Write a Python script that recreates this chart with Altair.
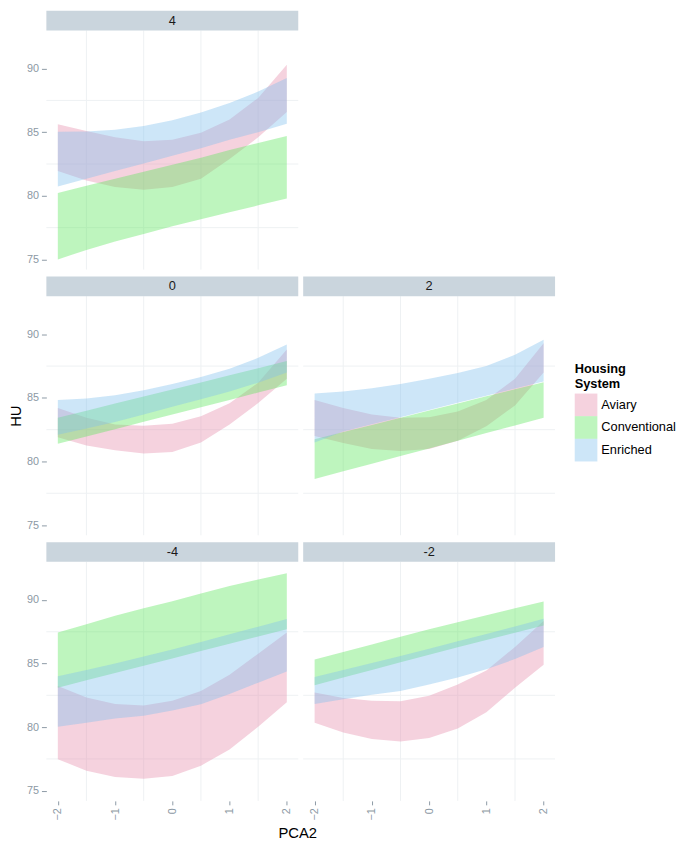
import altair as alt
import pandas as pd

# ---------------- data ----------------
PCA2 = [-2, -1.5, -1, -0.5, 0, 0.5, 1, 1.5, 2]
SYSTEMS = ["Aviary", "Conventional", "Enriched"]
PANEL_LABELS = ["4", "0", "2", "-4", "-2"]
X_TICKS = [-2, -1, 0, 1, 2]
Y_TICKS = [75, 80, 85, 90]
GRID_X = [-1.5, -0.5, 0.5, 1.5]
GRID_Y = [77.5, 82.5, 87.5]

# panel "4"
P4_AVIARY_LO = [81.96, 81.2, 80.7, 80.48, 80.7, 81.35, 82.9, 84.6, 86.6]
P4_AVIARY_HI = [85.62, 85.1, 84.6, 84.3, 84.4, 84.95, 86.0, 87.7, 90.3]
P4_CONV_LO = [75.0, 75.75, 76.4, 77.0, 77.6, 78.15, 78.7, 79.25, 79.79]
P4_CONV_HI = [80.22, 80.8, 81.35, 81.9, 82.45, 83.0, 83.6, 84.15, 84.7]
P4_ENR_LO = [80.74, 81.35, 81.95, 82.55, 83.15, 83.75, 84.4, 85.0, 85.67]
P4_ENR_HI = [85.03, 85.05, 85.2, 85.5, 85.95, 86.55, 87.3, 88.2, 89.26]

# panel "0"
P0_AVIARY_LO = [81.9, 81.26, 80.88, 80.62, 80.75, 81.5, 82.9, 84.6, 86.5]
P0_AVIARY_HI = [84.2, 83.43, 82.9, 82.8, 82.97, 83.56, 84.58, 86.2, 88.8]
P0_CONV_LO = [81.39, 81.97, 82.54, 83.12, 83.69, 84.27, 84.84, 85.42, 85.99]
P0_CONV_HI = [83.43, 83.99, 84.55, 85.1, 85.66, 86.22, 86.78, 87.34, 87.9]
P0_ENR_LO = [82.1, 82.6, 83.1, 83.7, 84.3, 84.9, 85.5, 86.2, 87.0]
P0_ENR_HI = [84.84, 84.95, 85.2, 85.6, 86.1, 86.65, 87.3, 88.15, 89.2]

# panel "2"
P2_AVIARY_LO = [82.0, 81.45, 80.99, 80.82, 80.99, 81.63, 82.78, 84.4, 87.0]
P2_AVIARY_HI = [84.84, 84.2, 83.7, 83.43, 83.48, 83.94, 84.84, 86.5, 89.3]
P2_CONV_LO = [78.63, 79.23, 79.83, 80.43, 81.03, 81.63, 82.23, 82.83, 83.43]
P2_CONV_HI = [81.75, 82.31, 82.87, 83.43, 84.0, 84.56, 85.12, 85.68, 86.24]
P2_ENR_LO = [81.5, 82.35, 82.92, 83.48, 84.05, 84.61, 85.17, 85.73, 86.28]
P2_ENR_HI = [85.35, 85.5, 85.75, 86.1, 86.5, 86.95, 87.5, 88.4, 89.57]

# panel "-4"
PM4_AVIARY_LO = [77.48, 76.58, 76.07, 75.94, 76.15, 76.97, 78.25, 80.03, 81.95]
PM4_AVIARY_HI = [83.23, 82.33, 81.82, 81.7, 82.08, 82.85, 84.12, 85.78, 87.44]
PM4_CONV_LO = [83.1, 83.68, 84.25, 84.83, 85.4, 85.98, 86.55, 87.13, 87.7]
PM4_CONV_HI = [87.44, 88.1, 88.75, 89.35, 89.9, 90.5, 91.1, 91.6, 92.1]
PM4_ENR_LO = [80.03, 80.35, 80.67, 80.9, 81.3, 81.8, 82.6, 83.5, 84.38]
PM4_ENR_HI = [84.0, 84.5, 85.0, 85.55, 86.1, 86.7, 87.3, 87.9, 88.5]

# panel "-2"
PM2_AVIARY_LO = [80.34, 79.57, 79.06, 78.88, 79.14, 79.9, 81.18, 83.1, 84.9]
PM2_AVIARY_HI = [82.72, 82.3, 82.08, 82.03, 82.46, 83.35, 84.45, 86.3, 88.34]
PM2_CONV_LO = [83.3, 83.9, 84.5, 85.1, 85.7, 86.28, 86.85, 87.43, 88.0]
PM2_CONV_HI = [85.32, 85.9, 86.5, 87.1, 87.7, 88.25, 88.8, 89.35, 89.87]
PM2_ENR_LO = [81.82, 82.2, 82.55, 82.85, 83.35, 83.9, 84.55, 85.35, 86.3]
PM2_ENR_HI = [83.94, 84.5, 85.05, 85.6, 86.17, 86.75, 87.33, 87.92, 88.52]

# ---------------- style ----------------
FONT = "Liberation Sans"
COLORS = ["#E68EAC", "#5CE65C", "#82C0EE"]
OPACITY = 0.4
STRIP_FILL = "#CAD5DD"
GRID_COLOR = "#EEF1F3"
AXIS_GRAY = "#8C99A4"
W, H = 256, 243
XDOM = [-2.2, 2.2]
YDOM = [74.2, 93.0]


def panel_df(series):
    rows = []
    for sys_name, (lo, hi) in zip(SYSTEMS, series):
        for x, l, h in zip(PCA2, lo, hi):
            rows.append({"PCA2": x, "System": sys_name, "lo": l, "hi": h})
    return pd.DataFrame(rows)


xs = alt.Scale(domain=XDOM, nice=False, zero=False)
ys = alt.Scale(domain=YDOM, nice=False, zero=False)

color = alt.Color(
    "System:N",
    scale=alt.Scale(domain=SYSTEMS, range=COLORS),
    legend=alt.Legend(
        title=["Housing", "System"],
        orient="none",
        legendX=537,
        legendY=338,
        symbolType="square",
        symbolSize=529,
        symbolOpacity=OPACITY,
        symbolStrokeWidth=0,
        rowPadding=0,
        labelOffset=4,
        padding=0,
        titlePadding=3,
        titleFontSize=13,
        titleFontWeight="bold",
        titleFont=FONT,
        labelFontSize=13,
        labelFont=FONT,
        labelColor="#000000",
        titleColor="#000000",
    ),
)


def make_panel(label, series, show_x=False, show_y=False, x_title=None, y_title=None):
    df = panel_df(series)
    if show_x:
        xaxis = alt.Axis(
            values=X_TICKS, format="d", grid=False, domain=False,
            labelAngle=270, tickSize=4, tickColor=AXIS_GRAY, labelColor=AXIS_GRAY,
            labelFontSize=11, labelFont=FONT, labelPadding=3,
            title=x_title if x_title else "",
            titleFont=FONT, titleFontSize=15, titleFontWeight="normal",
            titleColor="#000000", titlePadding=6,
            **({"titleX": 255} if x_title else {}),
        )
    else:
        xaxis = None
    if show_y:
        yaxis = alt.Axis(
            values=Y_TICKS, grid=False, domain=False,
            tickSize=5, tickColor=AXIS_GRAY, labelColor=AXIS_GRAY,
            labelFontSize=11, labelFont=FONT, labelPadding=3,
            title=y_title if y_title else "",
            titleFont=FONT, titleFontSize=15, titleFontWeight="normal",
            titleColor="#000000", titlePadding=3,
        )
    else:
        yaxis = None

    gx = alt.Chart(pd.DataFrame({"PCA2": GRID_X})).mark_rule(
        color=GRID_COLOR, strokeWidth=1
    ).encode(x=alt.X("PCA2:Q", scale=xs, axis=xaxis))
    gy = alt.Chart(pd.DataFrame({"lo": GRID_Y})).mark_rule(
        color=GRID_COLOR, strokeWidth=1
    ).encode(y=alt.Y("lo:Q", scale=ys, axis=yaxis))

    area = alt.Chart(df).mark_area(opacity=OPACITY, interpolate="linear").encode(
        x=alt.X("PCA2:Q", scale=xs, axis=xaxis),
        y=alt.Y("lo:Q", scale=ys, axis=yaxis),
        y2="hi:Q",
        color=color,
    )

    sdf = pd.DataFrame({"label": [label]})
    rect = alt.Chart(sdf).mark_rect(color=STRIP_FILL).encode(
        x=alt.value(0), x2=alt.value(W), y=alt.value(-20), y2=alt.value(0)
    )
    txt = alt.Chart(sdf).mark_text(
        fontSize=13, font=FONT, color="#1A1A1A", baseline="middle", align="center"
    ).encode(x=alt.value(W / 2), y=alt.value(-10), text="label:N")

    return alt.layer(gx, gy, area, rect, txt).properties(width=W, height=H)


p4 = make_panel("4", [(P4_AVIARY_LO, P4_AVIARY_HI), (P4_CONV_LO, P4_CONV_HI), (P4_ENR_LO, P4_ENR_HI)],
                show_y=True)
p0 = make_panel("0", [(P0_AVIARY_LO, P0_AVIARY_HI), (P0_CONV_LO, P0_CONV_HI), (P0_ENR_LO, P0_ENR_HI)],
                show_y=True, y_title="HU")
p2 = make_panel("2", [(P2_AVIARY_LO, P2_AVIARY_HI), (P2_CONV_LO, P2_CONV_HI), (P2_ENR_LO, P2_ENR_HI)])
pm4 = make_panel("-4", [(PM4_AVIARY_LO, PM4_AVIARY_HI), (PM4_CONV_LO, PM4_CONV_HI), (PM4_ENR_LO, PM4_ENR_HI)],
                 show_x=True, show_y=True, x_title="PCA2")
pm2 = make_panel("-2", [(PM2_AVIARY_LO, PM2_AVIARY_HI), (PM2_CONV_LO, PM2_CONV_HI), (PM2_ENR_LO, PM2_ENR_HI)],
                 show_x=True)

# empty slot to the right of panel "4" (facet_wrap leaves it blank)
blank = alt.Chart(pd.DataFrame({"PCA2": [], "lo": []})).mark_point(opacity=0).encode(
    x=alt.X("PCA2:Q", scale=xs, axis=None), y=alt.Y("lo:Q", scale=ys, axis=None)
).properties(width=W, height=H)

chart = alt.concat(
    p4, blank, p0, p2, pm4, pm2, columns=2,
    spacing={"row": 27, "column": 5}, bounds="flush",
).properties(
    padding={"left": 0, "top": -4, "right": 5, "bottom": 0}, background="white"
).configure_view(stroke=None)

chart.save("out.html", embed_options={"renderer": "svg", "actions": False})
